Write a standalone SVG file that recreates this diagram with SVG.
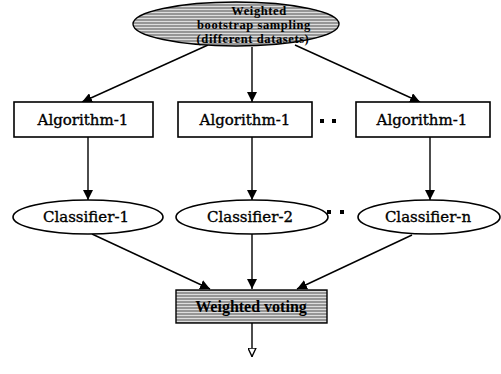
<svg xmlns="http://www.w3.org/2000/svg" width="501" height="374" viewBox="0 0 501 374">
<defs>
<pattern id="hatch" width="4" height="3" patternUnits="userSpaceOnUse">
<rect width="4" height="3" fill="#969696"/>
<rect y="0" width="4" height="1" fill="#dedede"/>
</pattern>
<marker id="arr" viewBox="0 0 10 10" refX="10" refY="5" markerWidth="10" markerHeight="10" markerUnits="userSpaceOnUse" orient="auto">
<path d="M0,0 L10,5 L0,10 z" fill="#000"/>
</marker>
<marker id="arrs" viewBox="0 0 10 10" refX="10" refY="5" markerWidth="9" markerHeight="9" markerUnits="userSpaceOnUse" orient="auto">
<path d="M0,0.5 L9.5,5 L0,9.5 z" fill="#fff" stroke="#000" stroke-width="1.5"/>
</marker>
</defs>
<style>
.n{fill:#fff;stroke:#000;stroke-width:1.6}
.g{fill:url(#hatch);stroke:#000;stroke-width:1.4}
.t{font-family:"DejaVu Serif","Liberation Serif",serif;font-size:15px;fill:#000;stroke:#000;stroke-width:0.35;text-anchor:middle}
.tb{font-family:"Liberation Serif",serif;font-size:12.5px;font-weight:bold;letter-spacing:0.6px;fill:#000;text-anchor:middle}
.c{stroke:#000;stroke-width:1.4;fill:none;marker-end:url(#arr)}
.d{fill:#000}
</style>
<g id="connectors">
<line class="c" x1="208" y1="45" x2="82" y2="102"/>
<line class="c" x1="252" y1="47" x2="252" y2="102"/>
<line class="c" x1="295" y1="45" x2="420" y2="102"/>
<line class="c" x1="88" y1="137" x2="88" y2="200"/>
<line class="c" x1="252" y1="137" x2="252" y2="200"/>
<line class="c" x1="430" y1="137" x2="430" y2="200"/>
<line class="c" x1="92" y1="234" x2="210" y2="289"/>
<line class="c" x1="252" y1="234" x2="252" y2="289"/>
<line class="c" x1="412" y1="235" x2="297" y2="289"/>
<line x1="252" y1="323" x2="252" y2="357" stroke="#000" stroke-width="1.4" marker-end="url(#arrs)"/>
</g>
<g id="sampling">
<ellipse class="g" cx="236" cy="24" rx="103" ry="22"/>
<text class="tb" x="259" y="15">Weighted</text>
<text class="tb" x="254" y="29">bootstrap sampling</text>
<text class="tb" x="253" y="43">(different datasets)</text>
</g>
<g id="alg1">
<rect class="n" x="14" y="102" width="139" height="35"/>
<text class="t" x="83" y="125">Algorithm-1</text>
</g>
<g id="alg2">
<rect class="n" x="178" y="102" width="134" height="35"/>
<text class="t" x="245" y="125">Algorithm-1</text>
</g>
<g id="alg3">
<rect class="n" x="356" y="102" width="134" height="35"/>
<text class="t" x="422" y="125">Algorithm-1</text>
</g>
<g id="dots1">
<rect class="d" x="320" y="119" width="4" height="4"/>
<rect class="d" x="332" y="119" width="4" height="4"/>
</g>
<g id="clf1">
<ellipse class="n" cx="88" cy="217" rx="75" ry="17"/>
<text class="t" x="86" y="222">Classifier-1</text>
</g>
<g id="clf2">
<ellipse class="n" cx="252" cy="217" rx="76" ry="17"/>
<text class="t" x="250" y="222">Classifier-2</text>
</g>
<g id="clfn">
<ellipse class="n" cx="429" cy="217" rx="71" ry="17"/>
<text class="t" x="428" y="222">Classifier-n</text>
</g>
<g id="dots2">
<rect class="d" x="327" y="210" width="4" height="4"/>
<rect class="d" x="340" y="210" width="4" height="4"/>
</g>
<g id="voting">
<rect class="g" x="176" y="290" width="151" height="33"/>
<text class="tb" x="251" y="312" style="font-size:16px;letter-spacing:0">Weighted voting</text>
</g>
</svg>
